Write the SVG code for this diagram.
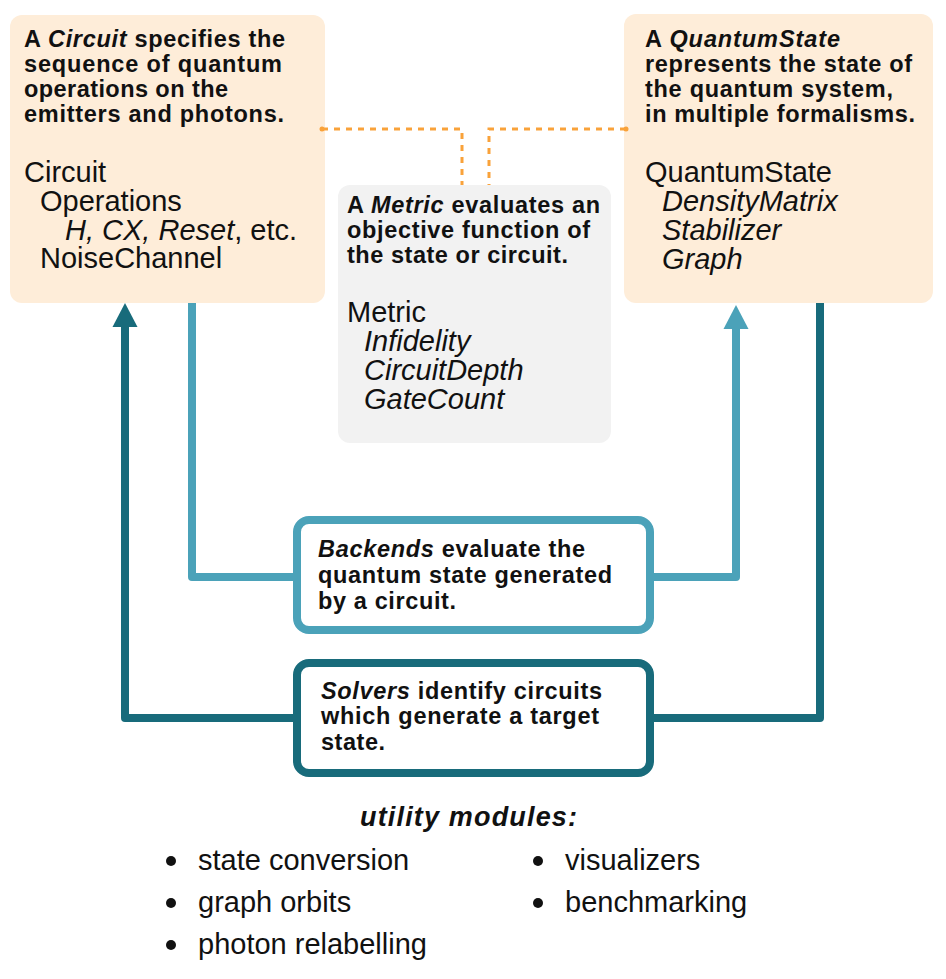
<svg xmlns="http://www.w3.org/2000/svg" width="946" height="979" viewBox="0 0 946 979">
  <style>
    text { font-family: "Liberation Sans", Arial, Helvetica, sans-serif; fill: #111; }
    .h { font-size: 23.5px; font-weight: bold; }
    .b { font-size: 29px; }
    .i { font-style: italic; }
    .u { font-size: 27px; font-weight: bold; font-style: italic; }
    .box-o { fill: #FEEDD9; }
    .box-g { fill: #F2F2F2; }
    .be { fill: #fff; stroke: #4BA2B9; stroke-width: 8; }
    .so { fill: #fff; stroke: #186B7B; stroke-width: 8; }
    .lb { fill: none; stroke: #4BA2B9; stroke-width: 8; stroke-linejoin: round; }
    .dk { fill: none; stroke: #186B7B; stroke-width: 8; stroke-linejoin: round; }
    .dash { fill: none; stroke: #F9A23A; stroke-width: 3; stroke-dasharray: 6 6; }
    .dot { fill: #F9A23A; }
    .bul { fill: #111; }
  </style>
  <defs>
    <marker id="ah-lb" markerUnits="userSpaceOnUse" viewBox="0 -13 25 26" markerWidth="25" markerHeight="26" refX="0" refY="0" orient="auto">
      <path d="M0,-12.5 L24,0 L0,12.5 Z" fill="#4BA2B9"/>
    </marker>
    <marker id="ah-dk" markerUnits="userSpaceOnUse" viewBox="0 -13 25 26" markerWidth="25" markerHeight="26" refX="0" refY="0" orient="auto">
      <path d="M0,-12.5 L24,0 L0,12.5 Z" fill="#186B7B"/>
    </marker>
  </defs>

  <g id="circuit">
    <rect class="box-o" x="10" y="15" width="315" height="288" rx="12"/>
    <text class="h" x="24" y="47" textLength="261" lengthAdjust="spacing">A <tspan class="i">Circuit</tspan> specifies the</text>
    <text class="h" x="24" y="72" textLength="258" lengthAdjust="spacing">sequence of quantum</text>
    <text class="h" x="24" y="97" textLength="204" lengthAdjust="spacing">operations on the</text>
    <text class="h" x="24" y="122" textLength="260" lengthAdjust="spacing">emitters and photons.</text>
    <text class="b" x="24" y="182">Circuit</text>
    <text class="b" x="40" y="211">Operations</text>
    <text class="b" x="65" y="240"><tspan class="i">H, CX, Reset</tspan>, etc.</text>
    <text class="b" x="40" y="268">NoiseChannel</text>
  </g>

  <g id="quantumstate">
    <rect class="box-o" x="624" y="14" width="309" height="289" rx="12"/>
    <text class="h" x="645" y="47" textLength="195" lengthAdjust="spacing">A <tspan class="i">QuantumState</tspan></text>
    <text class="h" x="645" y="72" textLength="267" lengthAdjust="spacing">represents the state of</text>
    <text class="h" x="645" y="97" textLength="248" lengthAdjust="spacing">the quantum system,</text>
    <text class="h" x="645" y="122" textLength="270" lengthAdjust="spacing">in multiple formalisms.</text>
    <text class="b" x="645" y="182">QuantumState</text>
    <text class="b i" x="662" y="211">DensityMatrix</text>
    <text class="b i" x="662" y="240">Stabilizer</text>
    <text class="b i" x="662" y="269">Graph</text>
  </g>

  <g id="metric">
    <rect class="box-g" x="338" y="185" width="273" height="258" rx="12"/>
    <text class="h" x="347" y="213" textLength="253" lengthAdjust="spacing">A <tspan class="i">Metric</tspan> evaluates an</text>
    <text class="h" x="347" y="238" textLength="243" lengthAdjust="spacing">objective function of</text>
    <text class="h" x="347" y="263" textLength="221" lengthAdjust="spacing">the state or circuit.</text>
    <text class="b" x="347" y="322">Metric</text>
    <text class="b i" x="364" y="351">Infidelity</text>
    <text class="b i" x="364" y="380">CircuitDepth</text>
    <text class="b i" x="364" y="409">GateCount</text>
  </g>

  <g id="backends">
    <rect class="be" x="297" y="520" width="353" height="110" rx="12"/>
    <text class="h" x="318" y="557" textLength="267" lengthAdjust="spacing"><tspan class="i">Backends</tspan> evaluate the</text>
    <text class="h" x="318" y="583" textLength="294" lengthAdjust="spacing">quantum state generated</text>
    <text class="h" x="318" y="609" textLength="138" lengthAdjust="spacing">by a circuit.</text>
  </g>

  <g id="solvers">
    <rect class="so" x="297" y="663" width="353" height="110" rx="12"/>
    <text class="h" x="321" y="699" textLength="281" lengthAdjust="spacing"><tspan class="i">Solvers</tspan> identify circuits</text>
    <text class="h" x="321" y="724" textLength="278" lengthAdjust="spacing">which generate a target</text>
    <text class="h" x="321" y="750" textLength="64" lengthAdjust="spacing">state.</text>
  </g>

  <g id="utility">
    <text class="u" x="360" y="826" textLength="217" lengthAdjust="spacing">utility modules:</text>
    <circle class="bul" cx="171" cy="861" r="5"/>
    <text class="b" x="198" y="870">state conversion</text>
    <circle class="bul" cx="171" cy="903" r="5"/>
    <text class="b" x="198" y="912">graph orbits</text>
    <circle class="bul" cx="171" cy="945" r="5"/>
    <text class="b" x="198" y="954">photon relabelling</text>
    <circle class="bul" cx="538" cy="861" r="5"/>
    <text class="b" x="565" y="870">visualizers</text>
    <circle class="bul" cx="538" cy="903" r="5"/>
    <text class="b" x="565" y="912">benchmarking</text>
  </g>

  <g id="connectors">
    <path class="dash" d="M322,129 H462 V185"/>
    <path class="dash" d="M626,129 H489 V185"/>
    <circle class="dot" cx="322" cy="129" r="2.5"/>
    <circle class="dot" cx="626" cy="129" r="2.5"/>
    <path class="lb" d="M192,303 V577 H293"/>
    <path class="lb" d="M654,577 H736 V329" marker-end="url(#ah-lb)"/>
    <path class="dk" d="M293,718 H125 V327" marker-end="url(#ah-dk)"/>
    <path class="dk" d="M654,718 H820 V303"/>
  </g>
</svg>
